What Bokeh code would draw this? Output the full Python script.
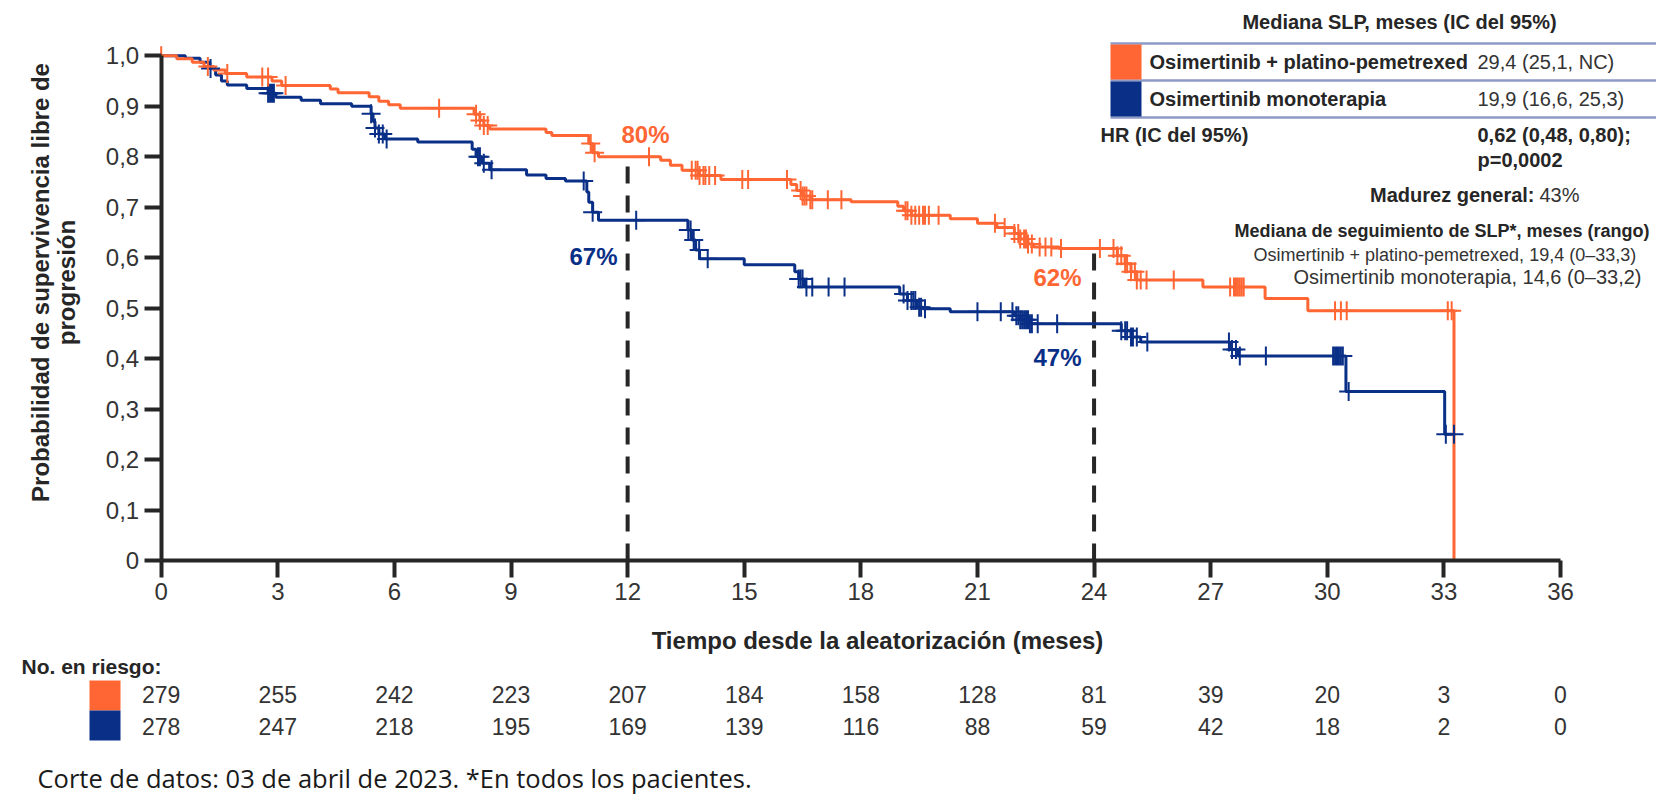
import numpy as np
from math import pi
from bokeh.plotting import figure
from bokeh.models import (Range1d, FixedTicker, Label, LabelSet, ColumnDataSource,
                          BoxAnnotation, LinearAxis)
from bokeh.core.properties import value
from bokeh.embed import file_html
from bokeh.resources import INLINE

# ---------------- data ----------------
arm_names = ["Osimertinib + platino-pemetrexed", "Osimertinib monoterapia"]

orange_t = [0, 0.4, 0.8, 1.1, 1.35, 1.65, 2.2, 2.85, 3.1, 4.35, 4.55, 5.35, 5.6, 5.85, 6.15,
            8.05, 8.2, 8.3, 8.45, 9.9, 10.05, 11.0, 11.1, 11.25, 12.85, 13.1, 13.4, 13.85, 14.4,
            16.2, 16.35, 16.5, 16.7, 17.75, 18.95, 19.1, 19.3, 20.3, 21.0, 21.5, 21.95, 22.1,
            22.3, 22.45, 23.1, 24.6, 24.8, 24.95, 25.1, 26.8, 28.4, 29.5, 33.26]
orange_s = [1.0, 0.994, 0.987, 0.979, 0.972, 0.965, 0.958, 0.950, 0.941, 0.934, 0.927, 0.919,
            0.910, 0.903, 0.896, 0.884, 0.872, 0.862, 0.855, 0.848, 0.842, 0.826, 0.808, 0.800,
            0.793, 0.783, 0.773, 0.763, 0.755, 0.745, 0.733, 0.722, 0.715, 0.711, 0.702, 0.693,
            0.684, 0.677, 0.668, 0.660, 0.648, 0.637, 0.627, 0.621, 0.618, 0.604, 0.588, 0.572,
            0.556, 0.542, 0.519, 0.495, 0.0]

blue_t = [0, 0.62, 1.0, 1.25, 1.4, 1.55, 1.7, 2.2, 2.75, 2.95, 3.6, 4.1, 4.9, 5.4, 5.45, 5.5,
          5.6, 5.75, 6.6, 8.0, 8.1, 8.25, 8.45, 9.4, 9.9, 10.4, 10.95, 11.0, 11.1, 11.25, 13.55,
          13.65, 13.75, 13.85, 15.0, 16.3, 16.4, 16.55, 19.0, 19.2, 19.45, 19.6, 20.3, 21.95,
          22.1, 22.35, 24.7, 24.95, 25.2, 27.5, 27.7, 30.48, 33.02, 33.26]
blue_s = [1.0, 0.995, 0.987, 0.975, 0.962, 0.950, 0.942, 0.935, 0.926, 0.918, 0.912, 0.905,
          0.900, 0.885, 0.870, 0.857, 0.845, 0.835, 0.829, 0.815, 0.800, 0.787, 0.774, 0.764,
          0.757, 0.752, 0.730, 0.710, 0.690, 0.674, 0.655, 0.635, 0.615, 0.598, 0.586, 0.572,
          0.558, 0.542, 0.528, 0.515, 0.502, 0.499, 0.493, 0.485, 0.477, 0.469, 0.455, 0.443,
          0.433, 0.418, 0.405, 0.335, 0.250, 0.250]

orange_cens_t = [0.0, 1.2, 1.7, 2.6, 2.75, 3.2, 7.15, 8.1, 8.2, 8.3, 8.4, 11.05, 11.15, 12.55,
                 13.65, 13.75, 13.8, 13.85, 13.95, 14.0, 14.1, 14.25, 14.95, 15.1, 16.1, 16.45,
                 16.5, 16.55, 16.6, 16.7, 16.75, 17.15, 17.5, 19.15, 19.2, 19.3, 19.4, 19.5,
                 19.6, 19.65, 19.75, 20.0, 21.45, 21.7, 21.95, 22.05, 22.1, 22.2, 22.25, 22.3,
                 22.4, 22.6, 22.75, 22.9, 23.15, 24.15, 24.5, 24.6, 24.7, 24.8, 24.85, 24.95,
                 25.05, 25.1, 25.2, 25.35, 26.05, 27.5, 27.6, 27.65, 27.7, 27.75, 27.8, 27.85,
                 30.2, 30.35, 30.5, 33.1, 33.2]
blue_cens_t = [1.27, 2.75, 2.8, 2.85, 2.9, 5.4, 5.5, 5.6, 5.7, 5.8, 8.15, 8.2, 8.3, 8.5, 10.87,
               11.1, 12.22, 13.56, 13.62, 13.7, 13.84, 14.06, 16.4, 16.45, 16.5, 16.6, 16.75,
               17.17, 17.58, 19.1, 19.2, 19.3, 19.35, 19.4, 19.5, 19.55, 19.65, 21.0, 21.6,
               21.9, 22.0, 22.05, 22.1, 22.15, 22.2, 22.25, 22.3, 22.35, 22.4, 22.55, 23.05,
               24.7, 24.8, 24.85, 24.95, 25.0, 25.1, 25.37, 27.47, 27.55, 27.65, 27.75, 28.42,
               30.15, 30.2, 30.25, 30.3, 30.35, 30.4, 30.55, 33.05, 33.26]

landmark_t = [12, 24]
landmark_orange_lbl = ["80%", "62%"]
landmark_blue_lbl = ["67%", "47%"]

x_ticks = [0, 3, 6, 9, 12, 15, 18, 21, 24, 27, 30, 33, 36]
y_ticks = [0, 0.1, 0.2, 0.3, 0.4, 0.5, 0.6, 0.7, 0.8, 0.9, 1]
y_tick_labels = ["0", "0,1", "0,2", "0,3", "0,4", "0,5", "0,6", "0,7", "0,8", "0,9", "1,0"]

risk_times = [0, 3, 6, 9, 12, 15, 18, 21, 24, 27, 30, 33, 36]
risk_orange = [279, 255, 242, 223, 207, 184, 158, 128, 81, 39, 20, 3, 0]
risk_blue = [278, 247, 218, 195, 169, 139, 116, 88, 59, 42, 18, 2, 0]

median_pfs = ["29,4 (25,1, NC)", "19,9 (16,6, 25,3)"]
hr_lines = ["0,62 (0,48, 0,80);", "p=0,0002"]
followup_lines = ["Osimertinib + platino-pemetrexed, 19,4 (0\u201333,3)",
                  "Osimertinib monoterapia, 14,6 (0\u201333,2)"]

# ---------------- style / geometry ----------------
ORANGE = "#FF6633"
BLUE = "#0A2F87"
DARK = "#262626"
TXT = "#333333"
FONT = "Liberation Sans"
BOX_LINE = "#8E9AC6"

W, H = 1656, 795
PX0, PX36, PY1, PY0 = 160.7, 1560.0, 55.3, 560.0   # pixel positions of x=0, x=36, y=1, y=0
PPX = (PX36 - PX0) / 36.0
PPY = (PY0 - PY1) / 1.0


def X(px):
    return (px - PX0) / PPX


def Y(py):
    return (PY0 - py) / PPY


def at(ts, ss, t):
    i = np.searchsorted(np.array(ts), t, side="right") - 1
    return ss[i]


p = figure(width=W, height=H, x_range=Range1d(X(0), X(W)), y_range=Range1d(Y(H), Y(0)),
           output_backend="svg", toolbar_location=None, title=None,
           x_axis_location=None, y_axis_location=None,
           min_border_left=0, min_border_right=0, min_border_top=0, min_border_bottom=0)
p.outline_line_color = None
p.grid.visible = False
p.background_fill_color = "white"
p.border_fill_color = "white"

xax = LinearAxis(fixed_location=0, ticker=FixedTicker(ticks=x_ticks), bounds=(0, 36))
yax = LinearAxis(fixed_location=0, ticker=FixedTicker(ticks=y_ticks), bounds=(0, 1),
                 major_label_overrides=dict(zip(y_ticks, y_tick_labels)))
for ax in (xax, yax):
    ax.axis_line_width = 4
    ax.axis_line_color = DARK
    ax.major_tick_line_width = 4
    ax.major_tick_line_color = DARK
    ax.major_tick_out = 17
    ax.major_tick_in = 0
    ax.minor_tick_line_color = None
    ax.major_label_text_font = FONT
    ax.major_label_text_font_size = "24px"
    ax.major_label_text_color = TXT
    ax.major_label_standoff = 5
p.add_layout(xax, "below")
p.add_layout(yax, "left")

# landmark dashed lines
land_top = [at(orange_t, orange_s, t) for t in landmark_t]
p.segment(x0=landmark_t, y0=[0] * len(landmark_t), x1=landmark_t, y1=land_top,
          line_color=DARK, line_width=4, line_dash="17 12")

# curves
p.step(blue_t, blue_s, mode="after", line_color=BLUE, line_width=3)
p.step(orange_t, orange_s, mode="after", line_color=ORANGE, line_width=3)

blue_cy = [at(blue_t, blue_s, t) for t in blue_cens_t]
orange_cy = [at(orange_t, orange_s, t) for t in orange_cens_t]
p.scatter(blue_cens_t, blue_cy, marker="cross", size=19, line_color=BLUE, line_width=2)
p.scatter(orange_cens_t, orange_cy, marker="cross", size=19, line_color=ORANGE, line_width=2)


def lab(px, py, text, size="20px", bold=False, color=TXT, align="left", font=FONT, angle=0):
    p.add_layout(Label(x=X(px), y=Y(py), text=text, text_font=font, text_font_size=size,
                       text_font_style="bold" if bold else "normal", text_color=color,
                       text_align=align, text_baseline="middle", angle=angle))


def box(l, r, t, b, color):
    p.add_layout(BoxAnnotation(left=X(l), right=X(r), top=Y(t), bottom=Y(b),
                               fill_color=color, fill_alpha=1, line_color=None))


# landmark percentages
lab(645, 134, landmark_orange_lbl[0], "24px", True, ORANGE, "center")
lab(593, 256, landmark_blue_lbl[0], "24px", True, BLUE, "center")
lab(1057, 277, landmark_orange_lbl[1], "24px", True, ORANGE, "center")
lab(1057, 357, landmark_blue_lbl[1], "24px", True, BLUE, "center")

# axis titles
lab(40, 282, "Probabilidad de supervivencia libre de", "24px", True, DARK, "center", angle=pi / 2)
lab(66, 282, "progresión", "24px", True, DARK, "center", angle=pi / 2)
lab(877, 640, "Tiempo desde la aleatorización (meses)", "24px", True, DARK, "center")

# legend box
lab(1399, 21, "Mediana SLP, meses (IC del 95%)", "20px", True, DARK, "center")
for yy in (43, 80, 117):
    box(1110, W, yy - 1.2, yy + 1.2, BOX_LINE)
box(1110, 1141, 44, 79, ORANGE)
box(1110, 1141, 81, 116, BLUE)
lab(1149, 61, arm_names[0], "20px", True, DARK)
lab(1149, 98, arm_names[1], "20px", True, DARK)
lab(1477, 61, median_pfs[0], "20px", False, TXT)
lab(1477, 98, median_pfs[1], "20px", False, TXT)
lab(1100, 134, "HR (IC del 95%)", "20px", True, DARK)
lab(1477, 134, hr_lines[0], "20px", True, DARK)
lab(1477, 159, hr_lines[1], "20px", True, DARK)

CX = 1467
lab(CX + 67, 194, "Madurez general:", "20px", True, DARK, "right")
lab(CX + 72, 194, "43%", "20px", False, TXT)
lab(1234, 230, "Mediana de seguimiento de SLP*, meses (rango)", "18px", True, DARK, "left")
lab(1253, 254, followup_lines[0], "18px", False, TXT, "left")
lab(CX, 276, followup_lines[1], "20px", False, TXT, "center")

# risk table
lab(21, 666, "No. en riesgo:", "21px", True, DARK)
box(89, 120, 680, 710, ORANGE)
box(89, 120, 710, 740, BLUE)
for counts, py in ((risk_orange, 694), (risk_blue, 726)):
    src = ColumnDataSource(dict(x=risk_times, y=[Y(py)] * len(risk_times),
                                text=[str(c) for c in counts]))
    p.add_layout(LabelSet(x="x", y="y", text="text", source=src,
                          text_font=value(FONT), text_font_size=value("23px"),
                          text_color=TXT, text_align="center", text_baseline="middle"))

# footer
lab(37, 777, "Corte de datos: 03 de abril de 2023. *En todos los pacientes.", "25.5px", False,
    "#1A1A1A", "left", font="Open Sans")

open("out.html", "w").write(file_html(p, INLINE))
